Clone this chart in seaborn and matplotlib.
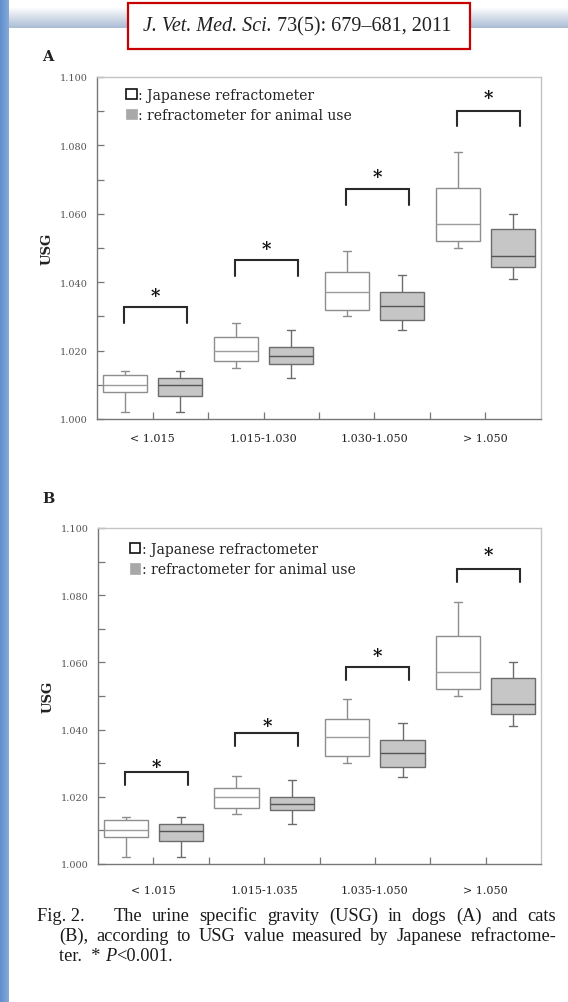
import numpy as np
import pandas as pd
import matplotlib
matplotlib.use("Agg")
import matplotlib.pyplot as plt
import seaborn as sns
from matplotlib.patches import Rectangle, Patch
from matplotlib.colors import LinearSegmentedColormap

# ---------------- data (five-number summaries: low, Q1, median, Q3, high) -------------
M_JP = "Japanese refractometer"
M_AN = "refractometer for animal use"

cats_A = ["< 1.015", "1.015-1.030", "1.030-1.050", "> 1.050"]
A_jp = [[1.002, 1.008, 1.010, 1.013, 1.014],
        [1.015, 1.017, 1.020, 1.024, 1.028],
        [1.030, 1.032, 1.037, 1.043, 1.049],
        [1.050, 1.052, 1.057, 1.0676, 1.078]]
A_an = [[1.002, 1.0068, 1.0098, 1.0121, 1.014],
        [1.012, 1.0161, 1.0183, 1.021, 1.026],
        [1.026, 1.029, 1.033, 1.037, 1.042],
        [1.041, 1.0444, 1.0476, 1.0556, 1.060]]
A_bracket_y = [1.0327, 1.0464, 1.0672, 1.0901]
A_star_y = [1.0369, 1.0506, 1.0717, 1.0946]

cats_B = ["< 1.015", "1.015-1.035", "1.035-1.050", "> 1.050"]
B_jp = [[1.002, 1.0079, 1.0101, 1.0131, 1.014],
        [1.0148, 1.0167, 1.020, 1.0225, 1.0261],
        [1.030, 1.032, 1.0377, 1.0433, 1.049],
        [1.050, 1.0522, 1.0571, 1.0679, 1.0781]]
B_an = [[1.002, 1.0069, 1.0097, 1.0118, 1.014],
        [1.0118, 1.0161, 1.0179, 1.0199, 1.0251],
        [1.026, 1.029, 1.033, 1.0369, 1.0419],
        [1.0411, 1.0445, 1.0476, 1.0555, 1.0601]]
B_bracket_y = [1.0274, 1.0389, 1.0586, 1.0877]
B_star_y = [1.0298, 1.0419, 1.0626, 1.0928]

y_ticks = [1.000, 1.020, 1.040, 1.060, 1.080, 1.100]

title_italic = "J. Vet. Med. Sci."
title_rest = " 73(5): 679\u2013681, 2011"
caption_1 = ["Fig. 2.", "The", "urine", "specific", "gravity", "(USG)", "in", "dogs",
             "(A)", "and", "cats"]
caption_2 = ["(B),", "according", "to", "USG", "value", "measured", "by", "Japanese",
             "refractome-"]

# ---------------- figure ----------------
W, H = 568, 1003
sns.set_style("ticks")
plt.rcParams["font.family"] = ["DejaVu Serif"]
SERIF2 = ["Liberation Serif", "DejaVu Serif"]

fig = plt.figure(figsize=(W / 100, H / 100), dpi=100)
fig.patch.set_facecolor("white")
renderer = fig.canvas.get_renderer()


def fx(x):
    return x / W


def fy(y):
    return 1 - y / H


def rect_px(x0, y0, x1, y1):
    return [x0 / W, 1 - y1 / H, (x1 - x0) / W, (y1 - y0) / H]


# header gradient band
hb = fig.add_axes(rect_px(0, 9, W, 29), zorder=0)
hb.imshow(np.linspace(0, 1, 60).reshape(-1, 1), aspect="auto", origin="upper",
          cmap=LinearSegmentedColormap.from_list("hb", ["#ffffff", "#aabcd4"]),
          extent=[0, 1, 0, 1])
hb.axis("off")

# left blue bar
bb = fig.add_axes(rect_px(0, 0, 8.5, H), zorder=1)
bb.imshow(np.linspace(0, 1, 20).reshape(1, -1), aspect="auto",
          cmap=LinearSegmentedColormap.from_list("bb", ["#5f8ecb", "#85a9d9"]),
          extent=[0, 1, 0, 1])
bb.axis("off")

# red citation box
fig.patches.append(Rectangle((fx(128), fy(50)), (470 - 128) / W, 46 / H,
                             transform=fig.transFigure, facecolor="white",
                             edgecolor="#c70000", lw=1.6, zorder=5))
t1 = fig.text(0, fy(31), title_italic, fontsize=14.5, fontstyle="italic",
              family=SERIF2, va="baseline", color="#222", zorder=6)
t2 = fig.text(0, fy(31), title_rest, fontsize=14.5, family=SERIF2,
              va="baseline", color="#222", zorder=6)
w1 = t1.get_window_extent(renderer).width
w2 = t2.get_window_extent(renderer).width
xs = 297 - (w1 + w2) / 2
t1.set_x(fx(xs))
t2.set_x(fx(xs + w1))

BR_L, BR_R = -0.26, 0.31


def draw_panel(rect, cats, jp, an, bracket_y, star_y, drop, letter, letter_y,
               leg_anchor, xpad):
    ax = fig.add_axes(rect)
    rows = []
    for method, summ in ((M_JP, jp), (M_AN, an)):
        for c, vals in zip(cats, summ):
            for v in vals:
                rows.append({"cat": c, "method": method, "usg": v})
    df = pd.DataFrame(rows)
    styles = {M_JP: ("white", "#8e8e8e", "#9c9c9c"),
              M_AN: ("#c6c6c6", "#6c6c6c", "#555555")}
    for method, (fc, ec, mc) in styles.items():
        sub = df[df["method"] == method]
        sns.boxplot(data=sub, x="cat", y="usg", hue="method", order=cats,
                    hue_order=[M_JP, M_AN],
                    palette={M_JP: styles[M_JP][0], M_AN: styles[M_AN][0]},
                    dodge=True, width=1.0, gap=0.2, whis=(0, 100), saturation=1,
                    linecolor=ec, linewidth=1.0, legend=False, ax=ax,
                    capwidths=0.075, medianprops=dict(color=mc), fliersize=0)
    ax.set_xlim(-0.5, 3.5)
    ax.set_ylim(1.0, 1.1)
    ax.set_yticks(y_ticks)
    ax.set_yticklabels([f"{v:.3f}" for v in y_ticks])
    ax.set_yticks(np.arange(1.01, 1.1, 0.02), minor=True)
    ax.set_xticks(range(len(cats)))
    ax.set_xticklabels(cats)
    ax.set_xticks([0.5, 1.5, 2.5], minor=True)
    ax.tick_params(axis="both", which="both", direction="in", length=5, width=0.9,
                   color="#777")
    ax.tick_params(axis="y", labelsize=7, labelcolor="#555", pad=7)
    ax.tick_params(axis="x", labelsize=8, labelcolor="#222", pad=xpad)
    ax.set_xlabel("")
    ax.set_ylabel("USG", fontsize=9.5, fontweight="bold", color="#222", labelpad=4)
    for s in ("top", "right"):
        ax.spines[s].set_color("#c4c4c4")
    for s in ("left", "bottom"):
        ax.spines[s].set_color("#777")
    for s in ax.spines.values():
        s.set_linewidth(1.0)

    # significance brackets
    for i in range(len(cats)):
        xl, xr = i + BR_L, i + BR_R
        yb = bracket_y[i]
        ax.plot([xl, xl, xr, xr], [yb - drop, yb, yb, yb - drop], color="#2a2a2a",
                lw=1.5, solid_joinstyle="miter")
        ax.text((xl + xr) / 2, star_y[i] - 0.0008, "*", ha="center", va="center",
                fontsize=13, fontweight="bold", color="#111")

    handles = [Patch(facecolor="white", edgecolor="#111", linewidth=1.2),
               Patch(facecolor="#a8a8a8", edgecolor="#a8a8a8", linewidth=0.5)]
    ax.legend(handles, [": " + M_JP, ": " + M_AN], loc="upper left",
              bbox_to_anchor=leg_anchor, frameon=False, fontsize=10,
              handlelength=0.75, handleheight=0.75, handletextpad=0.1,
              labelspacing=0.45, borderpad=0, borderaxespad=0, labelcolor="#222")
    fig.text(fx(42), fy(letter_y), letter, fontsize=10.5, fontweight="bold",
             va="center", color="#222")
    return ax


draw_panel(rect_px(97, 78, 541, 420), cats_A, A_jp, A_an, A_bracket_y, A_star_y,
           0.0045, "A", 57, (0.066, 0.968), 10)
draw_panel(rect_px(98, 529, 541, 865), cats_B, B_jp, B_an, B_bracket_y, B_star_y,
           0.0038, "B", 499, (0.072, 0.958), 15)

# ---------------- caption ----------------
CAP_SIZE = 13.2


def justified(tokens, x0, x1, ybase, weights):
    texts = [fig.text(0, fy(ybase), t, fontsize=CAP_SIZE, family=SERIF2,
                      va="baseline", color="#1a1a1a") for t in tokens]
    widths = [t.get_window_extent(renderer).width for t in texts]
    unit = ((x1 - x0) - sum(widths)) / sum(weights)
    x = x0
    for t, w, g in zip(texts, widths, list(weights) + [0]):
        t.set_x(fx(x))
        x += w + g * unit


justified(caption_1, 37, 556, 921, [3] + [1] * (len(caption_1) - 2))
justified(caption_2, 59, 556, 941, [1] * (len(caption_2) - 1))

x = 59
for txt, style in (("ter.  * ", "normal"), ("P", "italic"), ("<0.001.", "normal")):
    t = fig.text(fx(x), fy(961), txt, fontsize=CAP_SIZE, family=SERIF2,
                 fontstyle=style, va="baseline", color="#1a1a1a")
    x += t.get_window_extent(renderer).width

fig.savefig("out.png", dpi=100, facecolor="white")
